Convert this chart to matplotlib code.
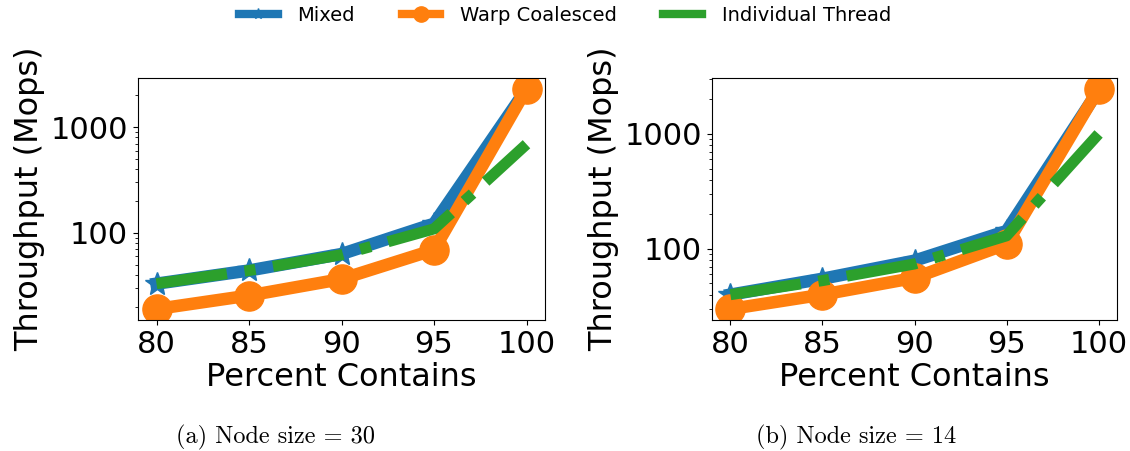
import matplotlib
matplotlib.use("Agg")
import matplotlib.pyplot as plt
from matplotlib.lines import Line2D

# percent of contains operations
percent = [80, 85, 90, 95, 100]

# node size 30
mixed_30 = [33, 44, 63, 122, 2300]
warp_30 = [19, 25.5, 36.5, 69, 2300]
indiv_30 = [33, 44, 62, 109, 690]

# node size 14
mixed_14 = [40, 55, 79, 143, 2400]
warp_14 = [30, 40, 56, 110, 2460]
indiv_14 = [40, 53, 74, 130, 1000]

series_names = ["Mixed", "Warp Coalesced", "Individual Thread"]
captions = ["(a) Node size = 30", "(b) Node size = 14"]

fig = plt.figure(figsize=(11.3, 4.51), dpi=100)
ax1 = fig.add_axes([138 / 1130, 131 / 451, 407 / 1130, 242 / 451])
ax2 = fig.add_axes([712 / 1130, 131 / 451, 405 / 1130, 242 / 451])

panels = [(ax1, mixed_30, warp_30, indiv_30), (ax2, mixed_14, warp_14, indiv_14)]
for ax, mixed, warp, indiv in panels:
    ax.plot(percent, mixed, color="tab:blue", marker="*", markersize=18, linewidth=9)
    ax.plot(percent, warp, color="tab:orange", marker="o", markersize=21, linewidth=9)
    ax.plot(percent, indiv, color="tab:green", linestyle="-.", linewidth=8)
    ax.set_yscale("log")
    ax.set_xticks(percent)
    ax.set_yticks([100, 1000])
    ax.set_yticklabels(["100", "1000"])
    ax.tick_params(axis="both", labelsize=22)
    ax.set_xlabel("Percent Contains", fontsize=23, labelpad=2)
    ax.set_ylabel("Throughput (Mops)", fontsize=23, labelpad=4)

# sub-captions sit under each subfigure (centred on the whole panel incl. y label)
for x, cap in zip([276, 856], captions):
    fig.text(x / 1130, 1 - 437 / 451, cap, ha="center", va="center",
             fontsize=17.5, family=["cmr10", "DejaVu Serif"])

# legend handles are drawn thinner than the plotted lines
handles = [
    Line2D([], [], color="tab:blue", marker="*", markersize=8, linewidth=6),
    Line2D([], [], color="tab:orange", marker="o", markersize=11, linewidth=6),
    Line2D([], [], color="tab:green", linewidth=6),
]
fig.legend(handles, series_names, loc="upper center", ncol=3, frameon=False, fontsize=14,
           bbox_to_anchor=(0.5, 1.025), handlelength=2.0, handletextpad=1.0,
           columnspacing=2.4)

fig.savefig("out.png", dpi=100)
